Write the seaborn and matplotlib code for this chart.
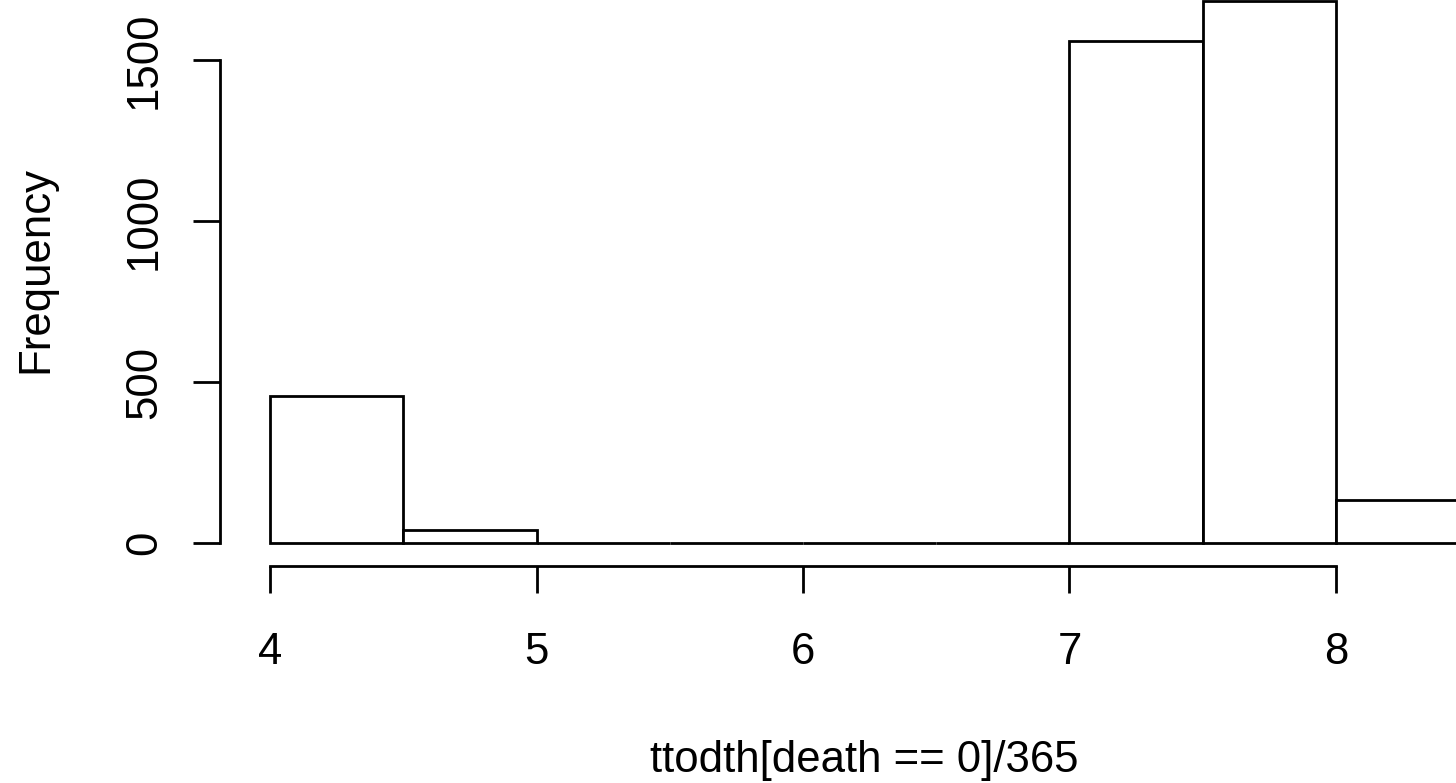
import numpy as np
import matplotlib
matplotlib.use('Agg')
import matplotlib.pyplot as plt
import seaborn as sns

# histogram of ttodth[death == 0]/365 (bins of half a year)
bin_edges = [4.0, 4.5, 5.0, 5.5, 6.0, 6.5, 7.0, 7.5, 8.0, 8.5]
counts = [456, 41, 0, 0, 0, 0, 1558, 1684, 134]
x_ticks = [4, 5, 6, 7, 8]
y_ticks = [0, 500, 1000, 1500]

sns.set_theme(style="white")
plt.rcParams['font.family'] = ['Liberation Sans', 'DejaVu Sans']
plt.rcParams['text.color'] = 'black'
plt.rcParams['axes.labelcolor'] = 'black'

W, H = 1456, 783
FS = 31.5
fig = plt.figure(figsize=(W / 100, H / 100), dpi=100)
# plot area in pixels: x 240..1456, y 0..555 (from top)
ax = fig.add_axes([240 / W, (H - 555) / H, (W - 240) / W, 555 / H])

centers = [(a + b) / 2 for a, b in zip(bin_edges[:-1], bin_edges[1:])]
sns.histplot(x=centers, weights=counts, bins=bin_edges, color='white',
             edgecolor='black', linewidth=2.0, alpha=1, ax=ax)

px_x = 266.5   # pixels per year
px_y = 0.322   # pixels per count
ax.set_xlim(4 - 30 / px_x, 4 + (W - 270) / px_x)
ax.set_ylim(-(555 - 543) / px_y, 543 / px_y)

for s in ['top', 'right']:
    ax.spines[s].set_visible(False)
ax.spines['bottom'].set_position(('outward', 11 * 0.72))
ax.spines['bottom'].set_bounds(4, 8)
ax.spines['left'].set_position(('outward', 20 * 0.72))
ax.spines['left'].set_bounds(0, 1500)
for s in ['bottom', 'left']:
    ax.spines[s].set_linewidth(2.0)
    ax.spines[s].set_color('black')

ax.set_xticks(x_ticks)
ax.set_yticks(y_ticks)
ax.set_xticklabels([str(v) for v in x_ticks])
ax.set_yticklabels([str(v) for v in y_ticks])
ax.tick_params(axis='both', direction='out', length=27 * 0.72, width=2.0,
               color='black', labelsize=FS, labelcolor='black',
               bottom=True, left=True)
ax.tick_params(axis='x', pad=39 * 0.72)
ax.tick_params(axis='y', pad=28 * 0.72, labelrotation=90)
for lbl in ax.get_yticklabels():
    lbl.set_va('center')

ax.set_xlabel('ttodth[death == 0]/365', fontsize=FS, va='baseline', color='black')
ax.xaxis.set_label_coords((864.5 - 240) / 1216, (555 - 772) / 555)
ax.set_ylabel('Frequency', fontsize=FS, va='baseline', color='black')
ax.yaxis.set_label_coords((47 - 240) / 1216, (555 - 269.5) / 555)

fig.savefig('out.png', dpi=100)
